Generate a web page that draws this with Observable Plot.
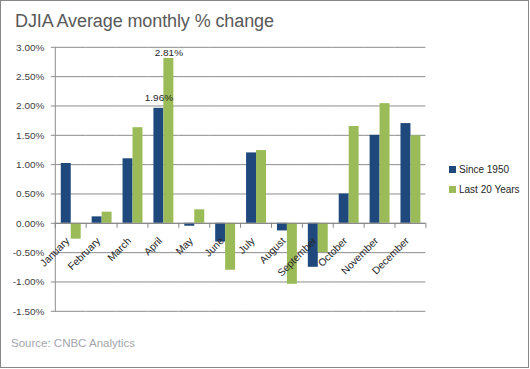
<!DOCTYPE html>
<html><head><meta charset="utf-8">
<script src="https://cdn.jsdelivr.net/npm/d3@7"></script>
<script src="https://cdn.jsdelivr.net/npm/@observablehq/plot@0.6"></script>
<style>
html,body{margin:0;padding:0;background:#fff;}
#wrap{position:relative;width:529px;height:368px;box-sizing:border-box;border:1px solid #878787;overflow:hidden;font-family:"Liberation Sans",Arial,sans-serif;background:#fff;}
#chart{position:absolute;left:-1px;top:-1px;}
#title{position:absolute;left:14px;top:11px;font-size:18px;line-height:18px;color:#595959;letter-spacing:-0.1px;white-space:nowrap;}
#source{position:absolute;left:10px;top:336px;font-size:11.5px;line-height:12px;color:#a2a6ab;white-space:nowrap;}
.leg{position:absolute;left:448px;font-size:10px;line-height:12px;color:#262626;white-space:nowrap;}
.leg span.sw{display:inline-block;width:7px;height:7px;margin-right:3px;vertical-align:0px;}
</style>
</head><body>
<div id="wrap">
  <div id="chart"></div>
  <div id="title">DJIA Average monthly % change</div>
  <div id="legend"></div>
  <div id="source">Source: CNBC Analytics</div>
</div>
<script>
const months = ["January","February","March","April","May","June","July","August","September","October","November","December"];
const series = ["Since 1950","Last 20 Years"];
const since1950 = [1.02,0.11,1.10,1.96,-0.05,-0.32,1.20,-0.13,-0.75,0.50,1.50,1.70];
const last20 = [-0.27,0.19,1.63,2.81,0.23,-0.80,1.24,-1.04,-0.50,1.65,2.04,1.49];
const colors = ["#1F497D","#9BBB59"];
const yTicks = [-1.5,-1,-0.5,0,0.5,1,1.5,2,2.5,3];
const labelMonth = ["April","April"];
const labelSeries = ["Since 1950","Last 20 Years"];
const labelValues = [1.96,2.81];

const rows = months.flatMap((m,i)=>[
  {month:m, series:series[0], value:since1950[i]},
  {month:m, series:series[1], value:last20[i]}
]);
const labels = labelValues.map((v,i)=>({month:labelMonth[i], series:labelSeries[i], value:v, text:v.toFixed(2)+"%"}));
const fmt = d => (d<0?"-":"") + Math.abs(d).toFixed(2) + "%";

const W=530, H=369, mL=49, mR=98, mT=47, mB=57;
const yDomain=[-1.5,3];
const innerH = H-mT-mB;
const zeroOff = innerH*(yDomain[1]-0)/(yDomain[1]-yDomain[0]);

const plot = Plot.plot({
  width:W, height:H, marginLeft:mL, marginRight:mR, marginTop:mT, marginBottom:mB,
  style:{fontFamily:"Liberation Sans, Arial, sans-serif", fontSize:"10px", color:"#404040", background:"transparent", overflow:"visible"},
  fx:{domain:months, padding:0, axis:null, label:null},
  x:{domain:series, paddingInner:0, paddingOuter:0.52, axis:null},
  y:{domain:yDomain, label:null, axis:null},
  color:{domain:series, range:colors},
  marks:[
    Plot.gridY(yTicks, {stroke:"#8c8c8c", strokeOpacity:1}),
    Plot.axisY(yTicks, {tickSize:4, tickPadding:7, tickFormat:fmt, stroke:"#8c8c8c", fill:"#404040", fontSize:10, label:null}),
    Plot.frame({anchor:"left", facetAnchor:"left", stroke:"#8c8c8c"}),
    Plot.barY(rows, {fx:"month", x:"series", y:"value", fill:"series"}),
    Plot.ruleY([0], {stroke:"#868686"}),
    Plot.frame({anchor:"left", insetTop:zeroOff, insetBottom:innerH-zeroOff-4, stroke:"#868686"}),
    Plot.frame({anchor:"right", facetAnchor:"right", insetTop:zeroOff, insetBottom:innerH-zeroOff-4, stroke:"#868686"}),
    Plot.text(months, {fx:d=>d, y:0, text:d=>d, rotate:-45, textAnchor:"end", dx:-3, dy:16, fontSize:10.3, fill:"#262626"}),
    Plot.text(labels.slice(0,1), {fx:"month", x:"series", y:"value", text:"text", dy:-11, fontSize:10, fill:"#262626"}),
    Plot.text(labels.slice(1,2), {fx:"month", x:"series", y:"value", text:"text", dy:-6, fontSize:10, fill:"#262626"})
  ]
});
document.getElementById("chart").appendChild(plot);

const leg = document.getElementById("legend");
const legTops = [163, 183];
series.forEach((s,i)=>{
  const d = document.createElement("div");
  d.className = "leg";
  d.style.top = legTops[i] + "px";
  d.innerHTML = `<span class="sw" style="background:${colors[i]}"></span>${s}`;
  leg.appendChild(d);
});
</script>
</body></html>
